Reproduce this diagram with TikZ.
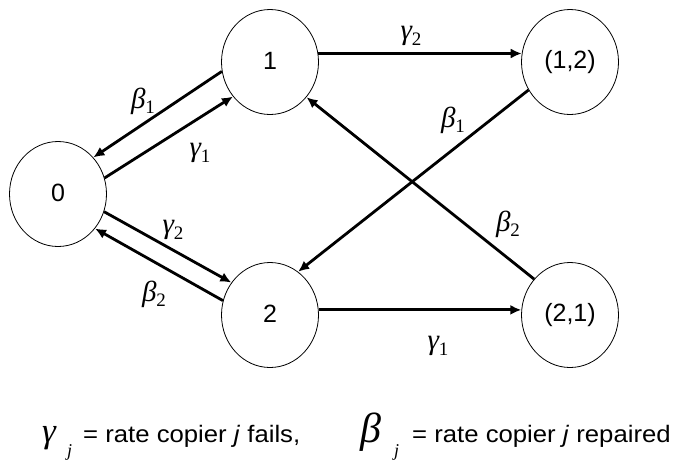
\documentclass[tikz,border=0pt]{standalone}
\usepackage{fontspec}
\setmainfont{Liberation Sans}[FakeStretch=1.08]
\newfontfamily\grk{Liberation Serif}
\newfontfamily\nodefont{Liberation Sans}
\usetikzlibrary{arrows.meta,shapes.geometric}
\newcommand{\glab}[2]{{\grk\itshape #1}\raisebox{-0.2em}{\fontsize{19}{19}\selectfont\grk #2}}
\begin{document}
\begin{tikzpicture}[x=1pt,y=-1pt,
  state/.style={draw, ellipse, line width=0.8pt, minimum width=97pt, minimum height=105pt, inner sep=0pt, font=\fontsize{25}{25}\nodefont},
  arr/.style={line width=2.8pt, -{Latex[length=11pt,width=10pt]}},
  lab/.style={inner sep=0pt, font=\fontsize{29}{29}\selectfont},
  captext/.style={anchor=base west, inner sep=0pt, font=\fontsize{23.8}{23.8}\selectfont},
  capsym/.style={anchor=base west, inner sep=0pt},
  capsub/.style={anchor=base west, inner sep=0pt, font=\fontsize{18}{18}\selectfont\grk\itshape}]
\useasboundingbox (0,0) rectangle (676,459);
\node[state] (s0) at (58,194) {\raisebox{2pt}{0}};
\node[state] (s1) at (270,62) {\raisebox{2pt}{1}};
\node[state] (s2) at (270,315) {\raisebox{2pt}{2}};
\node[state] (s12) at (570,62) {\raisebox{2pt}{(1,2)}};
\node[state] (s21) at (570,315) {\raisebox{2pt}{(2,1)}};
\draw[arr] (s1.191) -- (s0.46);
\draw[arr] (s0.19) -- (s1.223);
\draw[arr] (s0.339) -- (s2.140);
\draw[arr] (s2.163) -- (s0.317);
\draw[arr] (s1.10) -- (s12.170);
\draw[arr] (s2.6) -- (s21.174);
\draw[arr] (s12.214) -- (s2.57);
\draw[arr] (s21.135) -- (s1.316);
\node[lab] (lb1a) at (143,101) {\glab{β}{1}};
\node[lab] (lg1a) at (200,153) {\glab{γ}{1}};
\node[lab] (lg2a) at (173,230) {\glab{γ}{2}};
\node[lab] (lb2a) at (154,294) {\glab{β}{2}};
\node[lab] (lg2b) at (411,36) {\glab{γ}{2}};
\node[lab] (lb1b) at (453,120) {\glab{β}{1}};
\node[lab] (lb2b) at (508,224) {\glab{β}{2}};
\node[lab] (lg1b) at (438,346) {\glab{γ}{1}};
\node[capsym, font=\fontsize{35}{35}\selectfont\grk\itshape] (gsym) at (42,442) {γ};
\node[capsub] (gsub) at (67,456) {j};
\node[captext] (capa) at (83,442) {= rate copier \textit{j} fails,};
\node[capsym, font=\fontsize{42}{42}\selectfont\grk\itshape] (bsym) at (360,442) {β};
\node[capsub] (bsub) at (394,456) {j};
\node[captext] (capb) at (412,442) {= rate copier \textit{j} repaired};
\end{tikzpicture}
\end{document}
